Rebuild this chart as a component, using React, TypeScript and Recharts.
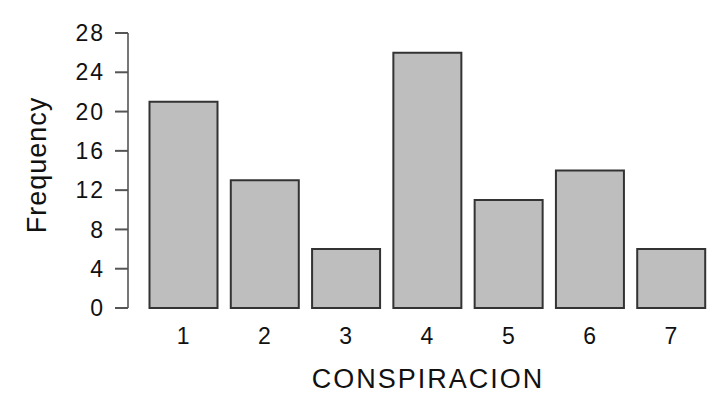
import { BarChart, Bar, XAxis, YAxis } from 'recharts';

// Frequency of each answer on the CONSPIRACION item
const categories = ['1', '2', '3', '4', '5', '6', '7'];
const frequencies = [21, 13, 6, 26, 11, 14, 6];
const yTicks = [0, 4, 8, 12, 16, 20, 24, 28];

const data = categories.map((c, i) => ({ cat: c, freq: frequencies[i] }));

const FONT = '"Liberation Sans", Arial, Helvetica, sans-serif';

export default function App() {
  return (
    <div style={{ position: 'absolute', left: 0, top: 0, width: 720, height: 405, background: '#fff' }}>
      <BarChart
        width={720}
        height={405}
        data={data}
        margin={{ top: 33, right: 8, bottom: 0, left: 0 }}
        barCategoryGap="8%"
      >
        <XAxis
          dataKey="cat"
          height={97}
          axisLine={false}
          tickLine={false}
          tickSize={0}
          tickMargin={20}
          padding={{ left: 15, right: 0 }}
          tick={{ fill: '#111', fontSize: 23, fontFamily: FONT, letterSpacing: 1 }}
          label={() => (
            <text x={428} y={388} textAnchor="middle" fill="#111" fontSize={27} fontFamily={FONT} letterSpacing={2}>
              CONSPIRACION
            </text>
          )}
        />
        <YAxis
          width={128}
          domain={[0, 28]}
          ticks={yTicks}
          interval={0}
          tickSize={13}
          tickMargin={10}
          axisLine={{ stroke: '#777', strokeWidth: 2 }}
          tickLine={{ stroke: '#555', strokeWidth: 2 }}
          tick={{ fill: '#111', fontSize: 23, fontFamily: FONT, letterSpacing: 2 }}
          label={() => (
            <text
              x={46}
              y={165}
              textAnchor="middle"
              fill="#111"
              fontSize={27}
              fontFamily={FONT}
              letterSpacing={1}
              transform="rotate(-90 46 165)"
            >
              Frequency
            </text>
          )}
        />
        <Bar dataKey="freq" fill="#bebebe" stroke="#333" strokeWidth={2} isAnimationActive={false} />
      </BarChart>
    </div>
  );
}
